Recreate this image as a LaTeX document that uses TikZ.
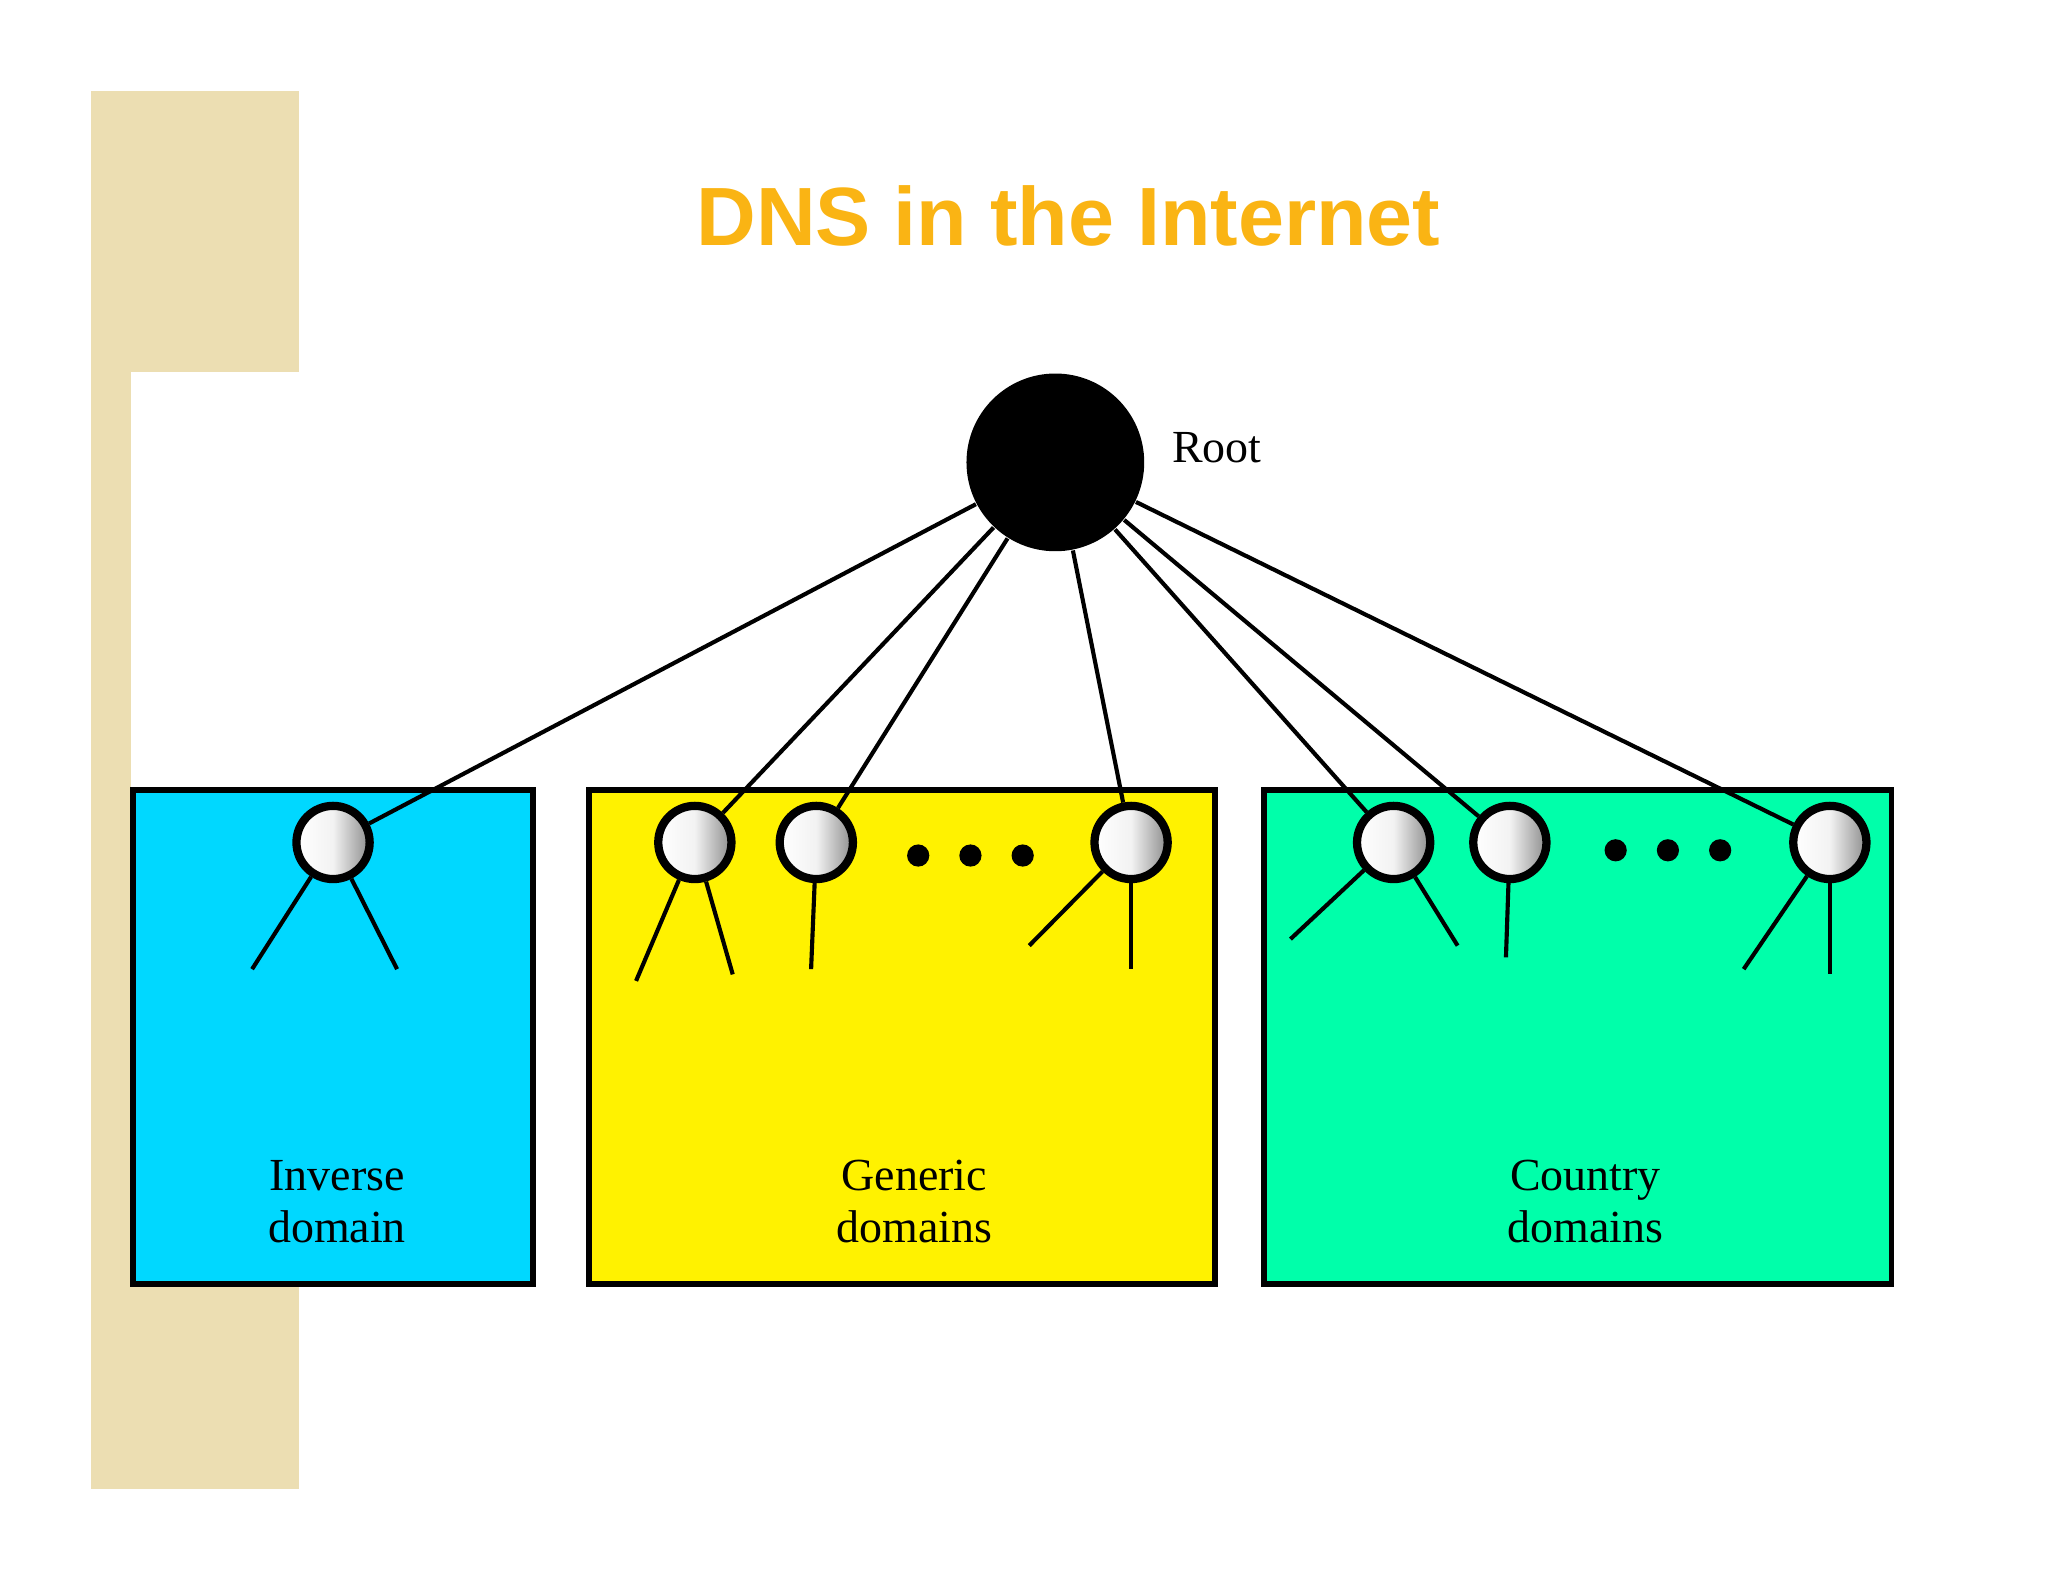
\documentclass[tikz,border=0pt]{standalone}
\usepackage{fontspec}
\setmainfont{Liberation Serif}
\newfontfamily\titlefont{Liberation Sans}
\begin{document}
\begin{tikzpicture}[x=0.01cm,y=-0.01cm,
  ball/.style={circle,draw,line width=1.8pt,minimum size=0.56cm,inner sep=0pt,left color=white,right color=black!45,middle color=white!95!black},
  edge/.style={line width=0.9pt},
  dot/.style={circle,fill=black,minimum size=0.17cm,inner sep=0pt},
  dombox/.style={draw,line width=1.2pt},
  lbl/.style={font=\fontsize{10}{11.4}\selectfont,align=center}]
\useasboundingbox (0,0) rectangle (1568,1211);
\definecolor{beige}{RGB}{236,222,178}
\definecolor{invc}{RGB}{0,216,255}
\definecolor{ctyc}{RGB}{0,255,170}
\definecolor{titc}{RGB}{250,180,20}
\fill[beige] (70,70) rectangle (229,285);
\fill[beige] (70,285) rectangle (100,985);
\fill[beige] (70,985) rectangle (229,1140);
\node[font=\titlefont\bfseries\fontsize{18}{22}\selectfont,text=titc] (title) at (818,165) {DNS in the Internet};
\node[circle,fill=black,minimum size=1.36cm,inner sep=0pt] (root) at (808,354) {};
\node[lbl,anchor=west] (rootl) at (885,343) {Root};
\node[dombox,fill=invc,minimum width=3.06cm,minimum height=3.78cm] (inv) at (255,794) {};
\node[dombox,fill=yellow,minimum width=4.79cm,minimum height=3.78cm] (gen) at (690.5,794) {};
\node[dombox,fill=ctyc,minimum width=4.8cm,minimum height=3.78cm] (cty) at (1208,794) {};
\node[lbl] (invl) at (258,920) {Inverse\\domain};
\node[lbl] (genl) at (700,920) {Generic\\domains};
\node[lbl] (ctyl) at (1214,920) {Country\\domains};
\foreach \n/\x in {a/255,b/532,c/625,d/866,e/1067,f/1156,g/1401}
  \node[ball] (\n) at (\x,645) {};
\foreach \n/\x/\y in {d1/703/655,d2/743/655,d3/783/655,d4/1237/651,d5/1277/651,d6/1317/651}
  \node[dot] (\n) at (\x,\y) {};
\foreach \n in {a,b,c,d,e,f,g} \draw[edge] (root) -- (\n);
\foreach \n/\x/\y [count=\i] in {a/193/742,a/304/742,b/487/751,b/561/746,c/621/742,d/788/724,d/866/742,e/988/719,e/1116/724,f/1153/733,g/1335/742,g/1401/746}{
  \coordinate (k\i) at (\x,\y);
  \draw[edge] (\n) -- (k\i);}
\end{tikzpicture}
\end{document}
